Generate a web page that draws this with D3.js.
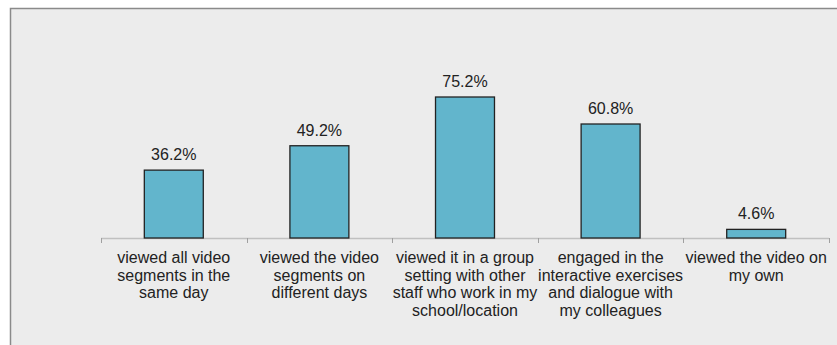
<!DOCTYPE html>
<html lang="en">
<head>
    <meta charset="UTF-8">
    <title>Video viewing</title>
    <script src="https://cdn.jsdelivr.net/npm/d3@7"></script>
    <style>
        body { margin: 0; background: #fff; }
        svg { display: block; font-family: "Liberation Sans", Arial, sans-serif; }
    </style>
</head>
<body>
    <div id="chart"></div>
    <script>
        const categories = [
            "viewed all video segments in the same day",
            "viewed the video segments on different days",
            "viewed it in a group setting with other staff who work in my school/location",
            "engaged in the interactive exercises and dialogue with my colleagues",
            "viewed the video on my own"
        ];
        const values = [36.2, 49.2, 75.2, 60.8, 4.6];
        const tickLabels = [
            ["viewed all video", "segments in the", "same day"],
            ["viewed the video", "segments on", "different days"],
            ["viewed it in a group", "setting with other", "staff who work in my", "school/location"],
            ["engaged in the", "interactive exercises", "and dialogue with", "my colleagues"],
            ["viewed the video on", "my own"]
        ];

        const width = 837;
        const height = 345;
        const margin = {left: 101, right: 8, top: 50.5, bottom: 107};

        const svg = d3.select("#chart").append("svg")
            .attr("width", width)
            .attr("height", height)
            .attr("viewBox", [0, 0, width, height]);

        // panel
        svg.append("rect")
            .attr("x", 10.5).attr("y", 8.5)
            .attr("width", 835).attr("height", 345)
            .attr("fill", "#ececec")
            .attr("stroke", "#8a8a8a")
            .attr("stroke-width", 1.5);

        const x = d3.scaleBand()
            .domain(categories)
            .range([margin.left, width - margin.right])
            .paddingInner(0.595)
            .paddingOuter(0.2975);

        const y = d3.scaleLinear()
            .domain([0, 100])
            .range([height - margin.bottom, margin.top]);

        const baseY = y(0);

        // axis line with ticks at band edges
        const step = x.step();
        const x0 = margin.left;
        const edges = d3.range(categories.length + 1).map(i => x0 + i * step);

        svg.append("line")
            .attr("x1", x0).attr("x2", edges[edges.length - 1])
            .attr("y1", baseY + 0.5).attr("y2", baseY + 0.5)
            .attr("stroke", "#c0c0c0")
            .attr("stroke-width", 1.5);

        svg.append("g")
            .selectAll("line")
            .data(edges)
            .join("line")
            .attr("x1", d => Math.round(d) + 0.5).attr("x2", d => Math.round(d) + 0.5)
            .attr("y1", baseY).attr("y2", baseY + 5)
            .attr("stroke", "#a0a0a0");

        // bars
        svg.append("g")
            .selectAll("rect")
            .data(values)
            .join("rect")
            .attr("x", (d, i) => x(categories[i]))
            .attr("y", d => y(d))
            .attr("width", x.bandwidth())
            .attr("height", d => baseY - y(d))
            .attr("fill", "#62b5cc")
            .attr("stroke", "#222")
            .attr("stroke-width", 1.3);

        // value labels
        svg.append("g")
            .selectAll("text")
            .data(values)
            .join("text")
            .attr("x", (d, i) => x(categories[i]) + x.bandwidth() / 2)
            .attr("y", d => y(d) - 10)
            .attr("text-anchor", "middle")
            .attr("font-size", 16)
            .attr("fill", "#222")
            .text(d => d.toFixed(1) + "%");

        // category labels
        const lab = svg.append("g")
            .selectAll("text")
            .data(tickLabels)
            .join("text")
            .attr("x", (d, i) => x(categories[i]) + x.bandwidth() / 2)
            .attr("y", baseY + 25)
            .attr("text-anchor", "middle")
            .attr("font-size", 16)
            .attr("fill", "#222");

        lab.selectAll("tspan")
            .data(d => d)
            .join("tspan")
            .attr("x", function () { return d3.select(this.parentNode).attr("x"); })
            .attr("dy", (d, i) => i === 0 ? 0 : 17.7)
            .text(d => d);
    </script>
</body>
</html>
